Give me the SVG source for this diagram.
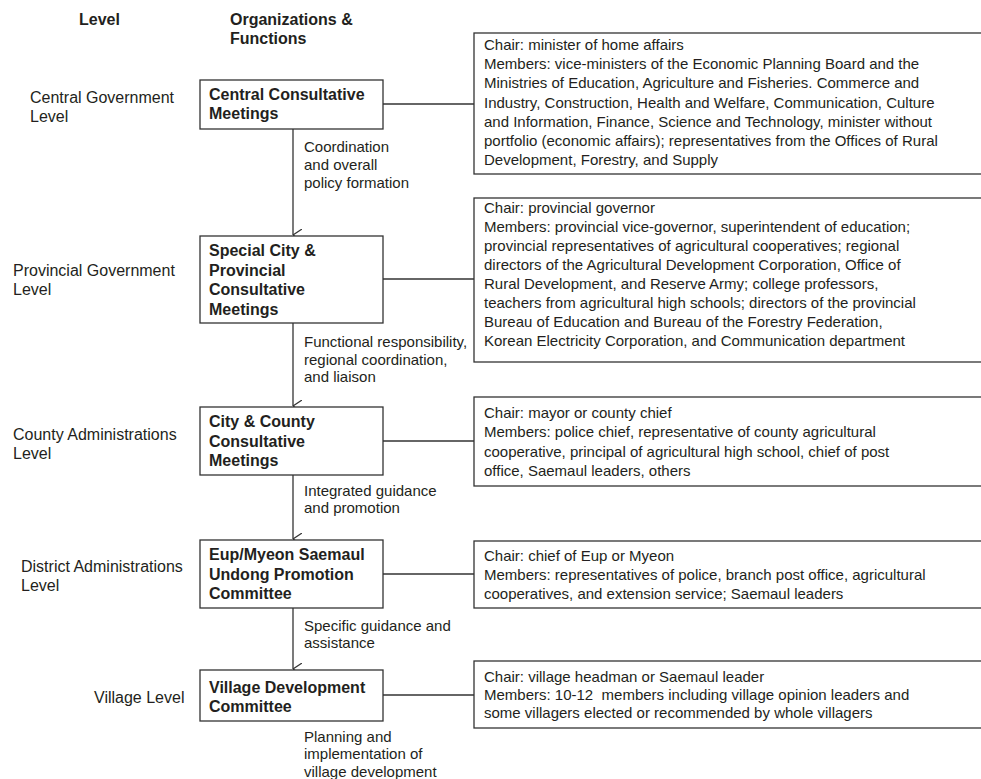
<svg xmlns="http://www.w3.org/2000/svg" width="981" height="779" viewBox="0 0 981 779">
<style>
text{font-family:"Liberation Sans",Arial,sans-serif;fill:#231f20}
.h{font-weight:bold;font-size:16px}
.lv{font-size:16px}
.bx{font-weight:bold;font-size:16px}
.lb{font-size:15px}
.rt{font-size:15px}
.pre{white-space:pre}
rect{fill:#fff;stroke:#333;stroke-width:1.3}
.c line{stroke:#333;stroke-width:1.3}
</style>
<defs>
<marker id="ah" viewBox="0 0 12 9" refX="6" refY="9" markerWidth="12" markerHeight="9" markerUnits="userSpaceOnUse" orient="auto-start-reverse">
<path d="M0,0 L6,9 L12,0" fill="none" stroke="#333" stroke-width="1.2"/>
</marker>
</defs>
<rect width="981" height="779" style="fill:#fff;stroke:none"/>
<g id="headers">
<text class="h" x="79" y="25">Level</text>
<text class="h" x="230" y="25">Organizations &amp;</text>
<text class="h" x="230" y="44">Functions</text>
</g>
<g id="levels" class="lv">
<text class="lv" x="30" y="103">Central Government</text>
<text class="lv" x="30" y="122">Level</text>
<text class="lv" x="13" y="276">Provincial Government</text>
<text class="lv" x="13" y="295">Level</text>
<text class="lv" x="13" y="440">County Administrations</text>
<text class="lv" x="13" y="459">Level</text>
<text class="lv" x="21" y="572">District Administrations</text>
<text class="lv" x="21" y="591">Level</text>
<text class="lv" x="94" y="703">Village Level</text>
</g>
<g class="c" id="connectors">
<line x1="293" y1="129" x2="293" y2="235" marker-end="url(#ah)"/>
<line x1="293" y1="323" x2="293" y2="406" marker-end="url(#ah)"/>
<line x1="293" y1="475" x2="293" y2="539" marker-end="url(#ah)"/>
<line x1="293" y1="608" x2="293" y2="669" marker-end="url(#ah)"/>
<line x1="383" y1="104" x2="474" y2="104"/>
<line x1="383" y1="279" x2="474" y2="279"/>
<line x1="383" y1="441" x2="474" y2="441"/>
<line x1="383" y1="574" x2="474" y2="574"/>
<line x1="383" y1="695" x2="474" y2="695"/>
</g>
<g id="labels">
<text class="lb" x="304" y="152">Coordination</text>
<text class="lb" x="304" y="170">and overall</text>
<text class="lb" x="304" y="188">policy formation</text>
<text class="lb" x="304" y="347">Functional responsibility,</text>
<text class="lb" x="304" y="365">regional coordination,</text>
<text class="lb" x="304" y="382">and liaison</text>
<text class="lb" x="304" y="496">Integrated guidance</text>
<text class="lb" x="304" y="513">and promotion</text>
<text class="lb" x="304" y="631">Specific guidance and</text>
<text class="lb" x="304" y="648">assistance</text>
<text class="lb" x="304" y="742">Planning and</text>
<text class="lb" x="304" y="759">implementation of</text>
<text class="lb" x="304" y="777">village development</text>
</g>
<g id="central">
<rect x="200" y="80" width="183" height="49"/>
<text class="bx" x="209" y="100">Central Consultative</text>
<text class="bx" x="209" y="119">Meetings</text>
</g>
<g id="provincial">
<rect x="200" y="236" width="183" height="87"/>
<text class="bx" x="209" y="256">Special City &amp;</text>
<text class="bx" x="209" y="276">Provincial</text>
<text class="bx" x="209" y="295">Consultative</text>
<text class="bx" x="209" y="315">Meetings</text>
</g>
<g id="county">
<rect x="200" y="407" width="183" height="68"/>
<text class="bx" x="209" y="427">City &amp; County</text>
<text class="bx" x="209" y="447">Consultative</text>
<text class="bx" x="209" y="466">Meetings</text>
</g>
<g id="district">
<rect x="200" y="540" width="183" height="68"/>
<text class="bx" x="209" y="560">Eup/Myeon Saemaul</text>
<text class="bx" x="209" y="580">Undong Promotion</text>
<text class="bx" x="209" y="599">Committee</text>
</g>
<g id="village">
<rect x="200" y="670" width="183" height="51"/>
<text class="bx" x="209" y="693">Village Development</text>
<text class="bx" x="209" y="712">Committee</text>
</g>
<g id="central-members">
<rect x="474" y="33" width="520" height="141"/>
<text class="rt" x="484" y="50">Chair: minister of home affairs</text>
<text class="rt" x="484" y="69">Members: vice-ministers of the Economic Planning Board and the</text>
<text class="rt" x="484" y="88">Ministries of Education, Agriculture and Fisheries. Commerce and</text>
<text class="rt" x="484" y="108">Industry, Construction, Health and Welfare, Communication, Culture</text>
<text class="rt" x="484" y="127">and Information, Finance, Science and Technology, minister without</text>
<text class="rt" x="484" y="146">portfolio (economic affairs); representatives from the Offices of Rural</text>
<text class="rt" x="484" y="165">Development, Forestry, and Supply</text>
</g>
<g id="provincial-members">
<rect x="474" y="198" width="520" height="164"/>
<text class="rt" x="484" y="213">Chair: provincial governor</text>
<text class="rt" x="484" y="232">Members: provincial vice-governor, superintendent of education;</text>
<text class="rt" x="484" y="251">provincial representatives of agricultural cooperatives; regional</text>
<text class="rt" x="484" y="270">directors of the Agricultural Development Corporation, Office of</text>
<text class="rt" x="484" y="289">Rural Development, and Reserve Army; college professors,</text>
<text class="rt" x="484" y="308">teachers from agricultural high schools; directors of the provincial</text>
<text class="rt" x="484" y="327">Bureau of Education and Bureau of the Forestry Federation,</text>
<text class="rt" x="484" y="346">Korean Electricity Corporation, and Communication department</text>
</g>
<g id="county-members">
<rect x="474" y="397" width="520" height="89"/>
<text class="rt" x="484" y="418">Chair: mayor or county chief</text>
<text class="rt" x="484" y="437">Members: police chief, representative of county agricultural</text>
<text class="rt" x="484" y="457">cooperative, principal of agricultural high school, chief of post</text>
<text class="rt" x="484" y="476">office, Saemaul leaders, others</text>
</g>
<g id="district-members">
<rect x="474" y="541" width="520" height="67"/>
<text class="rt" x="484" y="561">Chair: chief of Eup or Myeon</text>
<text class="rt" x="484" y="580">Members: representatives of police, branch post office, agricultural</text>
<text class="rt" x="484" y="599">cooperatives, and extension service; Saemaul leaders</text>
</g>
<g id="village-members">
<rect x="474" y="661" width="520" height="67"/>
<text class="rt" x="484" y="682">Chair: village headman or Saemaul leader</text>
<text class="rt pre" x="484" y="700">Members: 10-12  members including village opinion leaders and</text>
<text class="rt" x="484" y="718">some villagers elected or recommended by whole villagers</text>
</g>
</svg>
